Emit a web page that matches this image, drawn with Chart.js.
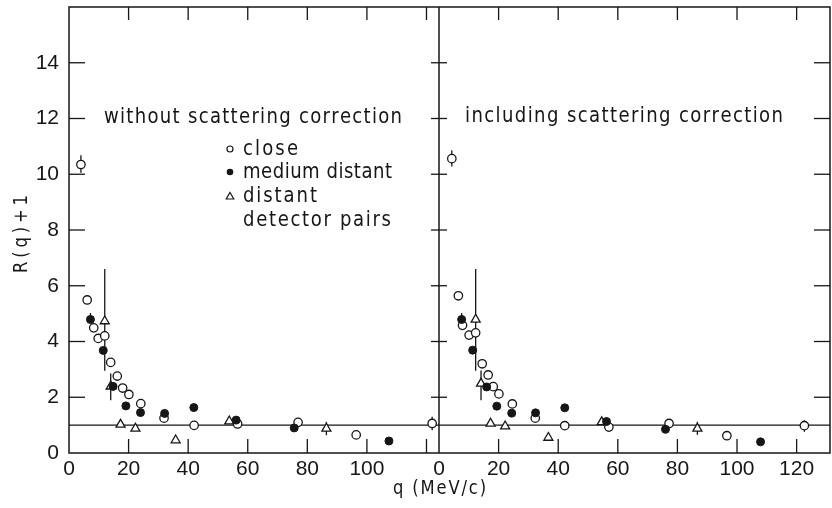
<!DOCTYPE html>
<html><head><meta charset="utf-8">
<script src="https://cdn.jsdelivr.net/npm/chart.js@4.4.1/dist/chart.umd.min.js"></script>
<style>html,body{margin:0;padding:0;background:#fff}canvas{display:block}</style>
</head><body>
<canvas id="c" width="832" height="508"></canvas>
<script>
// ---- tick labels / axis ranges ----
const yTicks = [0, 2, 4, 6, 8, 10, 12, 14];
const yTickMarks = [2, 4, 6, 8, 10, 12, 14];
const xTicksLeft = [0, 20, 40, 60, 80, 100];
const xTicksRight = [0, 20, 40, 60, 80, 100, 120];
const xTickMarks = [20, 40, 60, 80, 100, 120];
const qMaxLeft = 124.2;
const qMaxRight = 131.2;
const yMax = 16;
const refLevel = 1;

// ---- left panel: without scattering correction ----
const leftCloseQ = [4.0, 6.1, 8.3, 9.8, 12.0, 14.0, 16.2, 18.0, 20.1, 24.1, 31.9, 42.0, 56.6, 76.9, 96.4, 121.9];
const leftCloseR = [10.35, 5.49, 4.49, 4.11, 4.2, 3.25, 2.76, 2.33, 2.1, 1.77, 1.25, 0.99, 1.04, 1.1, 0.65, 1.06];
const leftCloseLo = [10.05, null, null, null, null, null, null, null, null, null, null, null, null, null, null, 0.82];
const leftCloseHi = [10.68, null, null, null, null, null, null, null, null, null, null, null, null, null, null, 1.3];

const leftMedQ = [7.2, 11.5, 14.8, 19.1, 24.0, 32.1, 41.9, 56.1, 75.6, 107.4];
const leftMedR = [4.79, 3.68, 2.39, 1.69, 1.45, 1.42, 1.63, 1.18, 0.9, 0.43];
const leftMedLo = [4.79, null, null, null, null, null, null, null, null, null];
const leftMedHi = [5.02, null, null, null, null, null, null, null, null, null];

const leftDistQ = [12.0, 14.0, 17.3, 22.3, 35.8, 53.8, 86.4];
const leftDistR = [4.73, 2.39, 1.02, 0.88, 0.46, 1.14, 0.88];
const leftDistLo = [2.95, 1.89, null, null, null, null, 0.64];
const leftDistHi = [6.6, 2.85, null, null, null, null, 1.12];

// ---- right panel: including scattering correction ----
const rightCloseQ = [4.3, 6.5, 7.9, 10.1, 12.3, 14.5, 16.5, 18.2, 20.1, 24.6, 32.3, 42.2, 57.0, 77.2, 96.6, 122.6];
const rightCloseR = [10.56, 5.64, 4.58, 4.23, 4.31, 3.2, 2.8, 2.38, 2.12, 1.76, 1.25, 0.98, 0.93, 1.06, 0.62, 0.98];
const rightCloseLo = [10.28, null, null, null, null, null, null, null, null, null, null, null, null, null, null, 0.76];
const rightCloseHi = [10.86, null, null, null, null, null, null, null, null, null, null, null, null, null, null, 1.18];

const rightMedQ = [7.6, 11.3, 16.0, 19.4, 24.4, 32.4, 42.2, 56.2, 76.0, 107.9];
const rightMedR = [4.79, 3.69, 2.37, 1.68, 1.43, 1.44, 1.62, 1.13, 0.85, 0.4];
const rightMedLo = [4.79, null, null, null, null, null, null, null, null, null];
const rightMedHi = [5.02, null, null, null, null, null, null, null, null, null];

const rightDistQ = [12.3, 14.1, 17.3, 22.2, 36.7, 54.6, 86.7];
const rightDistR = [4.79, 2.49, 1.06, 0.96, 0.55, 1.11, 0.88];
const rightDistLo = [2.95, 1.89, null, null, null, null, 0.65];
const rightDistHi = [6.6, 2.96, null, null, null, null, 1.12];

const INK = '#161616';
const FONT = '"DejaVu Sans", "Liberation Sans", sans-serif';

function pts(qs, rs) { return qs.map((q, i) => ({ x: q, y: rs[i] })); }

function closeSet(axis, q, r, lo, hi) {
  return { label: 'close', xAxisID: axis, data: pts(q, r), pointStyle: 'circle', pointRadius: 4.2,
    backgroundColor: '#fff', borderColor: INK, borderWidth: 1.3, errLo: lo, errHi: hi };
}
function medSet(axis, q, r, lo, hi) {
  return { label: 'medium distant', xAxisID: axis, data: pts(q, r), pointStyle: 'circle', pointRadius: 4,
    backgroundColor: INK, borderColor: INK, borderWidth: 1, errLo: lo, errHi: hi };
}
function distSet(axis, q, r, lo, hi) {
  return { label: 'distant', xAxisID: axis, data: pts(q, r), pointStyle: 'triangle', pointRadius: 5.2,
    backgroundColor: '#fff', borderColor: INK, borderWidth: 1.3, errLo: lo, errHi: hi };
}
function refLine(axis, qmax) {
  return { type: 'line', label: 'ref', xAxisID: axis, data: [{ x: 0, y: refLevel }, { x: qmax, y: refLevel }],
    showLine: true, borderColor: INK, borderWidth: 1.4, pointRadius: 0, fill: false };
}

function line(ctx, x1, y1, x2, y2) { ctx.beginPath(); ctx.moveTo(x1, y1); ctx.lineTo(x2, y2); ctx.stroke(); }

// draw text condensed horizontally, with letter spacing so it spans the given width
function spacedText(ctx, str, x, baseline, size, width, rot) {
  const sx = 0.86;
  ctx.save();
  ctx.font = size + 'px ' + FONT;
  const chars = Array.from(str);
  const ws = chars.map(c => ctx.measureText(c).width * sx);
  const total = ws.reduce((a, b) => a + b, 0);
  const gap = chars.length > 1 ? (width - total) / (chars.length - 1) : 0;
  ctx.translate(x, baseline);
  if (rot) ctx.rotate(rot);
  ctx.fillStyle = INK;
  ctx.textAlign = 'left';
  ctx.textBaseline = 'alphabetic';
  let cx = 0;
  chars.forEach((c, i) => {
    ctx.save();
    ctx.translate(cx, 0);
    ctx.scale(sx, 1);
    ctx.fillText(c, 0, 0);
    ctx.restore();
    cx += ws[i] + gap;
  });
  ctx.restore();
}

const framePlugin = {
  id: 'frame',
  beforeDatasetsDraw(chart) {
    const { ctx, chartArea: a, scales } = chart;
    const y = scales.y, xL = scales.xL, xR = scales.xR;
    ctx.save();
    ctx.strokeStyle = INK;
    ctx.lineWidth = 1.5;
    ctx.strokeRect(a.left, a.top, a.right - a.left, a.bottom - a.top);
    const xd = xR.left;
    line(ctx, xd, a.top, xd, a.bottom);
    ctx.lineWidth = 1.3;
    yTickMarks.forEach(v => {
      const p = y.getPixelForValue(v);
      line(ctx, a.left, p, a.left + 16, p);
      line(ctx, xd - 8, p, xd + 8, p);
      line(ctx, a.right - 16, p, a.right, p);
    });
    [xL, xR].forEach(s => xTickMarks.forEach(v => {
      const p = s.getPixelForValue(v);
      line(ctx, p, a.bottom, p, a.bottom - 14);
      line(ctx, p, a.top, p, a.top + 13);
    }));
    // error bars
    ctx.lineWidth = 1.3;
    chart.data.datasets.forEach((ds, i) => {
      if (!ds.errLo) return;
      const meta = chart.getDatasetMeta(i);
      ds.errLo.forEach((lo, j) => {
        if (lo === null) return;
        const px = meta.data[j].x;
        line(ctx, px, y.getPixelForValue(lo), px, y.getPixelForValue(ds.errHi[j]));
      });
    });
    ctx.restore();
  },
  afterDraw(chart) {
    const ctx = chart.ctx;
    ctx.save();
    spacedText(ctx, 'without scattering correction', 104, 123, 21, 298);
    spacedText(ctx, 'including scattering correction', 465, 122, 21, 318);
    // legend
    spacedText(ctx, 'close', 243, 155, 21, 55);
    spacedText(ctx, 'medium distant', 243, 178, 21, 149);
    spacedText(ctx, 'distant', 243, 202, 21, 74);
    spacedText(ctx, 'detector pairs', 243, 226, 21, 148);
    ctx.strokeStyle = INK; ctx.fillStyle = INK; ctx.lineWidth = 1.2;
    ctx.beginPath(); ctx.arc(230, 149, 3, 0, Math.PI * 2); ctx.stroke();
    ctx.beginPath(); ctx.arc(230, 172, 3.3, 0, Math.PI * 2); ctx.fill();
    ctx.beginPath(); ctx.moveTo(230, 192.5); ctx.lineTo(233.8, 199); ctx.lineTo(226.2, 199); ctx.closePath(); ctx.stroke();
    // axis titles
    spacedText(ctx, 'q (MeV/c)', 393, 494, 19, 93);
    spacedText(ctx, 'R(q)+1', 27, 273, 19, 78, -Math.PI / 2);
    ctx.restore();
  }
};

const tickFont = { family: '"Liberation Sans", "DejaVu Sans", sans-serif', size: 21 };
function fitX(s) { s.height = 55; s.paddingLeft = 0; s.paddingRight = 0; }

new Chart(document.getElementById('c'), {
  type: 'scatter',
  data: {
    datasets: [
      medSet('xL', leftMedQ, leftMedR, leftMedLo, leftMedHi),
      closeSet('xL', leftCloseQ, leftCloseR, leftCloseLo, leftCloseHi),
      distSet('xL', leftDistQ, leftDistR, leftDistLo, leftDistHi),
      medSet('xR', rightMedQ, rightMedR, rightMedLo, rightMedHi),
      closeSet('xR', rightCloseQ, rightCloseR, rightCloseLo, rightCloseHi),
      distSet('xR', rightDistQ, rightDistR, rightDistLo, rightDistHi),
      refLine('xL', qMaxLeft),
      refLine('xR', qMaxRight)
    ]
  },
  options: {
    responsive: false,
    animation: false,
    events: [],
    layout: { padding: { left: 0, top: 7, right: 2, bottom: 0 }, autoPadding: false },
    plugins: { legend: { display: false }, tooltip: { enabled: false } },
    scales: {
      xL: {
        type: 'linear', position: 'bottom', stack: 'q', stackWeight: 370,
        min: 0, max: qMaxLeft,
        grid: { display: false, drawTicks: false }, border: { display: false },
        afterBuildTicks: s => { s.ticks = xTicksLeft.map(v => ({ value: v })); },
        afterFit: fitX,
        ticks: { color: INK, font: tickFont, padding: 4, maxRotation: 0, autoSkip: false }
      },
      xR: {
        type: 'linear', position: 'bottom', stack: 'q', stackWeight: 391,
        min: 0, max: qMaxRight,
        grid: { display: false, drawTicks: false }, border: { display: false },
        afterBuildTicks: s => { s.ticks = xTicksRight.map(v => ({ value: v })); },
        afterFit: fitX,
        ticks: { color: INK, font: tickFont, padding: 4, maxRotation: 0, autoSkip: false }
      },
      y: {
        type: 'linear', position: 'left', min: 0, max: yMax,
        grid: { display: false, drawTicks: false }, border: { display: false },
        afterBuildTicks: s => { s.ticks = yTicks.map(v => ({ value: v })); },
        afterFit: s => { s.width = 69; s.paddingTop = 0; s.paddingBottom = 0; },
        ticks: { color: INK, font: tickFont, padding: 10 }
      }
    }
  },
  plugins: [framePlugin]
});
</script>
</body></html>
